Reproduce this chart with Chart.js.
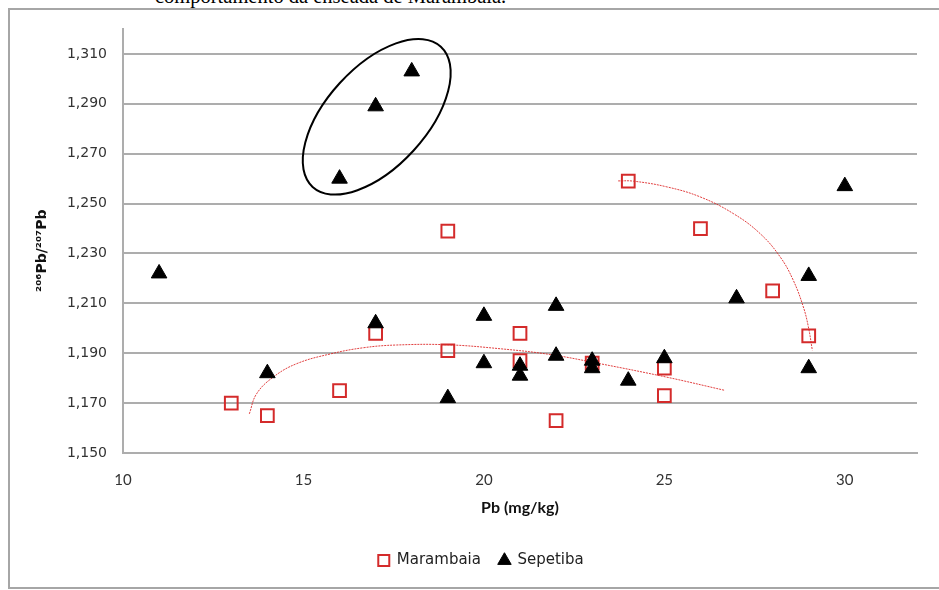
<!DOCTYPE html>
<html>
<head>
<meta charset="utf-8">
<script src="https://cdn.jsdelivr.net/npm/chart.js@4.4.1/dist/chart.umd.min.js"></script>
<style>
  html, body { margin: 0; padding: 0; background: #fff; overflow: hidden; }
  body { width: 939px; height: 590px; position: relative; }
  #caption { position: absolute; left: 155px; top: -14px; font: 20.5px/21px "Liberation Serif", serif; color: #000; white-space: nowrap; }
  #frame { position: absolute; left: 8px; top: 8px; width: 960px; height: 581px; border: 2px solid #a6a6a6; box-sizing: border-box; }
  canvas { position: absolute; left: 0; top: 0; }
</style>
</head>
<body>
<div id="caption">comportamento da enseada de Marambaia.</div>
<div id="frame"></div>
<canvas id="chart" width="939" height="590"></canvas>
<script>
// values
const marambaiaX = [13, 14, 16, 17, 19, 19, 21, 21, 22, 23, 24, 25, 25, 26, 28, 29];
const marambaiaY = [1.170, 1.165, 1.175, 1.198, 1.239, 1.191, 1.198, 1.187, 1.163, 1.186, 1.259, 1.184, 1.173, 1.240, 1.215, 1.197];

const sepetibaX = [11, 14, 16, 17, 18, 17, 19, 20, 20, 21, 21, 22, 22, 23, 23, 24, 25, 27, 29, 29, 30];
const sepetibaY = [1.222, 1.182, 1.260, 1.289, 1.303, 1.202, 1.172, 1.205, 1.186, 1.185, 1.181, 1.209, 1.189, 1.187, 1.184, 1.179, 1.188, 1.212, 1.221, 1.184, 1.257];

// red dotted trend curves
const trend1X = [13.5, 13.7, 14.16, 14.81, 15.74, 16.66, 17.58, 18.97, 20.45, 21.83, 23.22, 25.07, 26.68];
const trend1Y = [1.1657, 1.1737, 1.1804, 1.1858, 1.1897, 1.1922, 1.1933, 1.1934, 1.1918, 1.1895, 1.1858, 1.1804, 1.1751];
const trend2X = [23.72, 24.14, 25.07, 25.99, 26.91, 27.65, 28.21, 28.57, 28.85, 28.99, 29.10];
const trend2Y = [1.2591, 1.2590, 1.2567, 1.2527, 1.2460, 1.2380, 1.2286, 1.2193, 1.2086, 1.2006, 1.1912];

const xTicks = [10, 15, 20, 25, 30];
const yTicks = [1.150, 1.170, 1.190, 1.210, 1.230, 1.250, 1.270, 1.290, 1.310];

const pts = (xs, ys) => xs.map((x, i) => ({ x: x, y: ys[i] }));

const ellipse = {
  id: 'ellipse',
  afterDatasetsDraw(chart, args, opts) {
    const { ctx, scales } = chart;
    ctx.save();
    ctx.beginPath();
    ctx.ellipse(scales.x.getPixelForValue(opts.cx), scales.y.getPixelForValue(opts.cy),
      opts.rx, opts.ry, opts.rotation, 0, Math.PI * 2);
    ctx.lineWidth = 2;
    ctx.strokeStyle = '#000';
    ctx.stroke();
    ctx.restore();
  }
};

const gridColor = '#adadad';

new Chart(document.getElementById('chart'), {
  type: 'scatter',
  data: {
    datasets: [
      {
        label: 'Marambaia',
        data: pts(marambaiaX, marambaiaY),
        pointStyle: 'rect',
        pointRadius: 9,
        backgroundColor: 'rgba(0,0,0,0)',
        borderColor: '#d42b2b',
        borderWidth: 2,
        order: 2
      },
      {
        label: 'Sepetiba',
        data: pts(sepetibaX, sepetibaY),
        pointStyle: 'triangle',
        pointRadius: 9,
        backgroundColor: '#000',
        borderColor: '#000',
        borderWidth: 1,
        order: 1
      },
      {
        label: 'trend1',
        data: pts(trend1X, trend1Y),
        showLine: true,
        tension: 0.4,
        pointRadius: 0,
        borderColor: 'rgba(220,30,30,0.85)',
        borderWidth: 1,
        borderDash: [2, 1],
        order: 3
      },
      {
        label: 'trend2',
        data: pts(trend2X, trend2Y),
        showLine: true,
        tension: 0.4,
        pointRadius: 0,
        borderColor: 'rgba(220,30,30,0.85)',
        borderWidth: 1,
        borderDash: [2, 1],
        order: 3
      }
    ]
  },
  options: {
    responsive: false,
    animation: false,
    devicePixelRatio: 1,
    layout: { padding: { left: 45, right: 22, top: 29, bottom: 12 } },
    scales: {
      x: {
        type: 'linear',
        min: 10,
        max: 32,
        afterBuildTicks: s => { s.ticks = xTicks.map(v => ({ value: v })); },
        afterFit: s => { s.height = 82; },
        grid: { display: false },
        border: { display: true, color: gridColor, width: 2 },
        ticks: {
          padding: 10,
          color: '#333',
          font: { family: 'Lato', size: 15 }
        },
        title: {
          display: true,
          text: 'Pb (mg/kg)',
          color: '#111',
          font: { family: 'Lato', size: 16, weight: 'bold' },
          padding: { top: 0, bottom: 18 }
        }
      },
      y: {
        min: 1.15,
        max: 1.32,
        afterBuildTicks: s => { s.ticks = yTicks.map(v => ({ value: v })); },
        afterFit: s => { s.width = 78; },
        grid: { color: gridColor, lineWidth: 2, drawTicks: false },
        border: { display: true, color: gridColor, width: 2 },
        ticks: {
          padding: 16,
          color: '#333',
          font: { family: 'DejaVu Sans', size: 14 },
          callback: v => v.toFixed(3).replace('.', ',')
        },
        title: {
          display: true,
          text: '\u00b2\u2070\u2076Pb/\u00b2\u2070\u2077Pb\u2007\u2007',
          color: '#111',
          font: { family: 'DejaVu Sans', size: 14, weight: 'bold' },
          padding: { top: -11, bottom: 0 }
        }
      }
    },
    plugins: {
      tooltip: { enabled: false },
      ellipse: { cx: 17.03, cy: 1.2848, rx: 95, ry: 50, rotation: -0.83 },
      legend: {
        position: 'bottom',
        labels: {
          usePointStyle: true,
          boxWidth: 11,
          boxHeight: 11,
          padding: 18,
          color: '#222',
          font: { family: 'DejaVu Sans', size: 15 },
          filter: item => item.datasetIndex < 2,
          sort: (a, b) => a.datasetIndex - b.datasetIndex
        }
      }
    }
  },
  plugins: [ellipse]
});
</script>
</body>
</html>
